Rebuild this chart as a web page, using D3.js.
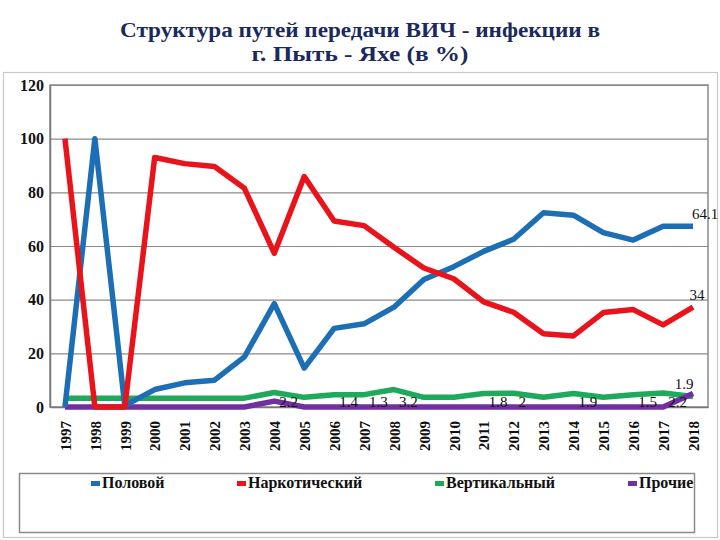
<!DOCTYPE html>
<html><head><meta charset="utf-8">
<script src="https://cdn.jsdelivr.net/npm/d3@7"></script>
<style>
body{margin:0;background:#fff;}
svg, svg text{font-family:"Liberation Serif","Times New Roman",serif !important;}
</style></head>
<body><svg id="c" width="720" height="540"></svg>
<script>
const years = ["1997","1998","1999","2000","2001","2002","2003","2004","2005","2006","2007","2008","2009","2010","2011","2012","2013","2014","2015","2016","2017","2018"];
const seriesNames = ["Половой","Наркотический","Вертикальный","Прочие"];
const seriesColors = ["#1c6fb5","#e8131b","#1fa95b","#7030a0"];
const polovoy =      [0,100,0.5,6.5,9,10,18.7,38.5,14.5,29.3,31,37.2,47.5,52.3,58,62.5,72.4,71.5,65,62.2,67.4,67.4];
const narkotich =    [100,0,0,93,90.7,89.6,81.5,57.3,85.9,69.3,67.6,59.5,51.8,47.8,39.2,35.3,27.3,26.5,35.2,36.3,30.6,37.2];
const vertikal =     [3.3,3.3,3.3,3.3,3.3,3.3,3.3,5.4,3.6,4.6,4.6,6.5,3.6,3.6,5,5.1,3.6,5,3.6,4.6,5.2,3.9];
const prochie =      [0,0,0,0,0,0,0,2.2,0,0,0,0,0,0,0,0,0,0,0,0,0,5];
const yTicks = [0,20,40,60,80,100,120];
const smallLabelYears = ["2004","2006","2007","2008","2011","2012","2014","2016","2017"];
const smallLabelTexts = ["2.2","1.4","1.3","3.2","1.8","2","1.9","1.5","2.2"];
const endLabels = [{text:"64.1", series:0},{text:"34", series:1},{text:"1.9", series:3}];
const titleLines = ["Структура путей передачи ВИЧ - инфекции  в","г. Пыть - Яхе (в %)"];

const svg = d3.select("#c");
const data = [polovoy, narkotich, vertikal, prochie];

// outer frame
svg.append("rect").attr("x",3.5).attr("y",72.5).attr("width",714).attr("height",465)
  .attr("fill","none").attr("stroke","#c8c8c8").attr("stroke-width",1.2);

// title
const titleWidths = [480,217];
svg.selectAll("text.title").data(titleLines).join("text").attr("class","title")
  .attr("x",360).attr("y",(d,i)=>37+i*24).attr("text-anchor","middle")
  .attr("font-size",20).attr("font-weight","bold").attr("fill","#1b2a5c")
  .attr("textLength",(d,i)=>titleWidths[i]).attr("lengthAdjust","spacingAndGlyphs")
  .text(d=>d);

const x = d3.scalePoint().domain(years).range([50,708]).padding(0.5);
const y = d3.scaleLinear().domain([0,120]).range([407,85]);

// gridlines
svg.append("g").selectAll("line").data(yTicks.slice(1)).join("line")
  .attr("x1",50).attr("x2",708).attr("y1",d=>y(d)+0.5).attr("y2",d=>y(d)+0.5)
  .attr("stroke","#8a8a8a").attr("stroke-width",1.2);
// plot border
svg.append("rect").attr("x",50).attr("y",y(120)).attr("width",658).attr("height",y(0)-y(120))
  .attr("fill","none").attr("stroke","#8a8a8a").attr("stroke-width",1.5);

// y axis
const ya = svg.append("g").attr("transform","translate(50,0)")
  .call(d3.axisLeft(y).tickValues(yTicks).tickSize(0).tickPadding(6));
ya.attr("font-family",null);
ya.select(".domain").attr("stroke","#777").attr("stroke-width",1.5);
ya.selectAll("text").attr("font-size",16)
  .attr("font-weight","bold").attr("fill","#111");

// x axis
const xa = svg.append("g").attr("transform","translate(0,"+y(0)+")")
  .call(d3.axisBottom(x).tickSize(0).tickPadding(0));
xa.attr("font-family",null);
xa.select(".domain").attr("stroke","#777").attr("stroke-width",1.5);
xa.selectAll("text").attr("font-size",15)
  .attr("font-weight","bold").attr("fill","#111")
  .attr("transform","translate(0,14) rotate(-90)").attr("text-anchor","end")
  .attr("dx",0).attr("dy","0.35em").attr("y",0).attr("x",0);

// lines
const line = d3.line().x((d,i)=>x(years[i])).y(d=>y(d));
const order = [2,3,0,1];
svg.append("g").selectAll("path").data(order).join("path")
  .attr("d",k=>line(data[k])).attr("fill","none").attr("stroke",k=>seriesColors[k])
  .attr("stroke-width",5.5).attr("stroke-linejoin","round");

// small data labels
svg.append("g").selectAll("text").data(smallLabelYears).join("text")
  .attr("x",d=>x(d)+5).attr("y",y(0)-0.5)
  .attr("font-size",15).attr("fill","#111").text((d,i)=>smallLabelTexts[i]);

// end labels
const last = years[years.length-1];
const endOffsets = [{dx:-1,dy:-7,anchor:"start"},{dx:4,dy:-7,anchor:"middle"},{dx:-9,dy:-5,anchor:"middle"}];
svg.append("g").selectAll("text").data(endLabels).join("text")
  .attr("x",(d,i)=>x(last)+endOffsets[i].dx)
  .attr("y",(d,i)=>y(data[d.series][years.length-1])+endOffsets[i].dy)
  .attr("text-anchor",(d,i)=>endOffsets[i].anchor)
  .attr("font-size",15).attr("fill","#111").text(d=>d.text);

// legend
svg.append("rect").attr("x",19.5).attr("y",473.5).attr("width",675).attr("height",59)
  .attr("fill","none").attr("stroke","#8a8a8a").attr("stroke-width",1.5);
const legX = [91,237,435,628];
const lg = svg.append("g").selectAll("g").data(seriesNames).join("g")
  .attr("transform",(d,i)=>"translate("+legX[i]+",488)");
lg.append("rect").attr("x",0).attr("y",-7).attr("width",9).attr("height",5)
  .attr("fill",(d,i)=>seriesColors[i]);
lg.append("text").attr("x",11).attr("y",0).attr("font-size",16).attr("font-weight","bold")
  .attr("fill","#111").text(d=>d);
</script></body></html>
